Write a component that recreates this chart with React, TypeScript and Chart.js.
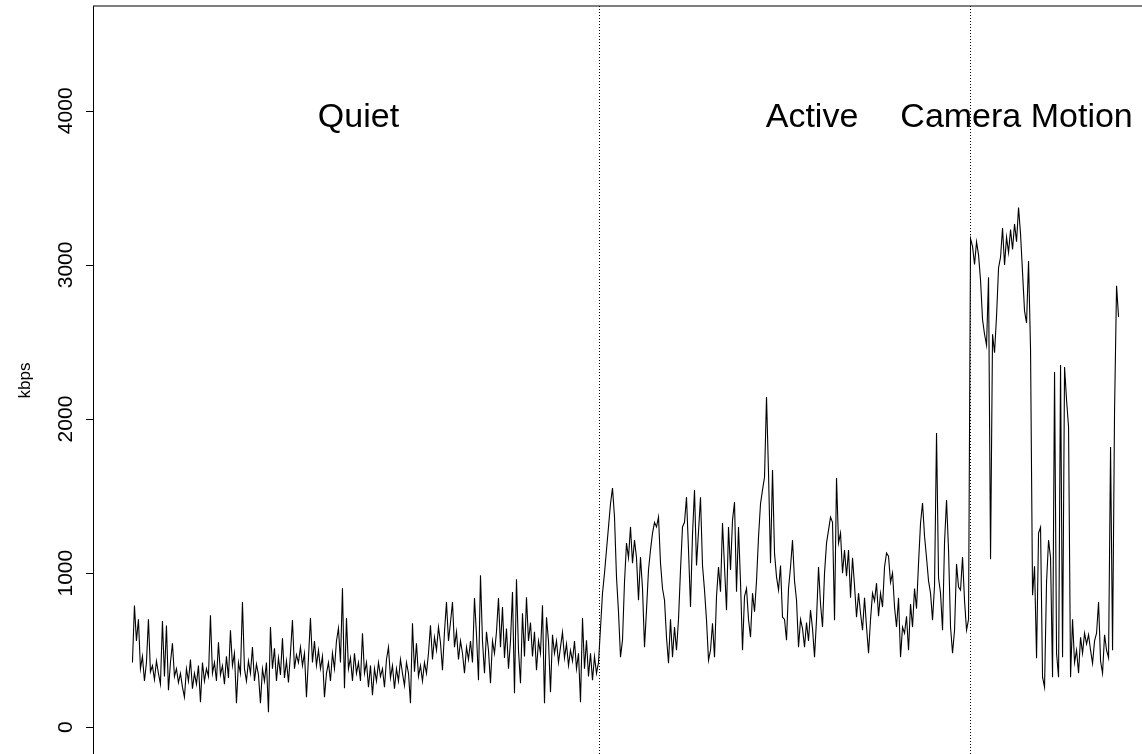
import React, { useEffect, useRef } from "react";
import { Chart, registerables } from "chart.js";

Chart.register(...registerables);

// kbps per frame, in three consecutive phases
const quietKbps = [
  420, 790, 560, 700, 380, 460, 300, 420, 700, 360,
  400, 310, 430, 350, 280, 690, 330, 660, 240, 420,
  545, 330, 380, 290, 350, 260, 195, 380, 300, 440,
  250, 350, 280, 400, 162, 420, 300, 380, 330, 727,
  350, 420, 300, 552, 340, 400, 280, 460, 320, 630,
  400, 480, 156, 420, 350, 812, 380, 300, 430, 350,
  520, 300, 410, 340, 156, 380, 300, 420, 97, 650,
  380, 513, 300, 450, 340, 578, 320, 430, 290, 480,
  695, 380, 470, 420, 520, 400, 480, 195, 450, 708,
  420, 560, 400, 500, 380, 460, 195, 350, 420, 300,
  480, 380, 560, 643, 420, 902, 253, 708, 380, 450,
  300, 480, 350, 420, 300, 610, 350, 420, 260, 400,
  208, 380, 300, 420, 330, 380, 260, 440, 520, 320,
  400, 250, 380, 300, 440, 350, 270, 420, 350, 156,
  675, 360, 545, 330, 400, 300, 420, 350, 480, 662,
  440, 584, 500, 650, 550, 370, 620, 812, 560, 680,
  812, 520, 620, 440, 560, 480, 350, 520, 440, 560,
  420, 838, 600, 305, 987, 560, 350, 620, 500, 285,
  560, 480, 620, 838, 520, 780, 450, 640, 380, 560,
  877, 220, 961, 500, 285, 740, 460, 844, 560, 680,
  460, 620, 370, 560, 480, 792, 156, 714, 560, 227,
  600, 480, 560, 420, 520, 617, 450, 540, 400, 500,
  430, 560, 380, 480, 162, 708, 380, 565, 330, 480,
  305, 460, 350, 420,
];

const activeKbps = [
  643, 870, 1000, 1150, 1300, 1450, 1552, 1364, 974, 747,
  455, 565, 942, 1195, 1100, 1300, 1065, 1214, 1100, 825,
  1104, 900, 520, 760, 1020, 1150, 1260, 1330, 1300, 1364,
  1065, 900, 825, 584, 415, 700, 455, 650, 500, 700,
  1020, 1300, 1330, 1493, 1150, 780, 1250, 1540, 1050, 1270,
  1493, 1050, 890, 695, 435, 500, 675, 455, 850, 1040,
  880, 1325, 1040, 760, 1300, 1020, 1344, 1461, 880, 1300,
  940, 500, 850, 900, 700, 584, 870, 750, 950, 1234,
  1450, 1540, 1623, 2143, 1650, 1065, 1669, 1130, 976, 890,
  1050, 714, 700, 565, 900, 1040, 1214, 950, 825, 520,
  700, 640, 520, 680, 560, 760, 640, 455, 700, 1040,
  800, 650, 1000, 1195, 1279, 1364, 1330, 695, 1617, 1195,
  1260, 1000, 1150, 980, 1150, 840, 1100, 920, 714, 870,
  740, 630, 840, 650, 480, 700, 870, 820, 935, 720,
  870, 780, 1040, 1130, 1110, 940, 1000, 780, 650, 840,
  455, 650, 610, 720, 500, 800, 650, 900, 770, 1065,
  1325, 1455, 1240, 1100, 950, 870, 695, 920, 1909, 970,
  870, 630, 1200, 1474, 1150, 650, 480, 630, 1060, 910,
  890, 1104, 820, 630, 700,
];

const cameraKbps = [
  3170, 3120, 3003, 3150, 3065, 2900, 2645, 2550, 2480, 2920,
  1090, 2550, 2430, 2668, 2980, 3050, 3240, 3000, 3180, 3080,
  3230, 3100, 3266, 3150, 3373, 3200, 2950, 2700, 2623, 3025,
  2450, 857, 1045, 448, 1260, 1298, 325, 260, 942, 1214,
  1100, 325, 2305, 480, 325, 2350, 455, 2338, 2123, 1948,
  325, 700, 420, 500, 350, 584, 480, 610, 540, 600,
  500, 415, 560, 610, 812, 430, 350, 600, 500, 450,
  1818, 500, 2058, 2864, 2662,
];

const yTicks = [0, 1000, 2000, 3000, 4000];
const yLimits = [0, 4500];
const yAxisTitle = "kbps";
const phaseLabels = ["Quiet", "Active", "Camera Motion"];
const phaseLabelX = [113, 339.75, 442];
const phaseLabelY = 4000;

const FONT = '"Liberation Sans", Arial, Helvetica, sans-serif';

export default function App() {
  const ref = useRef<HTMLCanvasElement>(null);

  useEffect(() => {
    const canvas = ref.current;
    if (!canvas) return;
    const series = [...quietKbps, ...activeKbps, ...cameraKbps];
    const n = series.length;
    const points = series.map((v, i) => ({ x: i, y: v }));
    const bounds = [
      quietKbps.length - 0.5,
      quietKbps.length + activeKbps.length - 0.5,
    ];
    const xPad = 0.04 * (n - 1);
    const yPad = 0.04 * (yLimits[1] - yLimits[0]);

    const overlay = {
      id: "rbase",
      afterDatasetsDraw(chart: any) {
        const { ctx, chartArea: a, scales } = chart;
        const xs = scales.x;
        const ys = scales.y;
        ctx.save();
        ctx.strokeStyle = "#000";
        ctx.fillStyle = "#000";
        ctx.lineWidth = 1;

        // phase separators
        ctx.setLineDash([1, 2]);
        bounds.forEach((b) => {
          const px = Math.round(xs.getPixelForValue(b)) + 0.5;
          ctx.beginPath();
          ctx.moveTo(px, a.top);
          ctx.lineTo(px, a.bottom);
          ctx.stroke();
        });
        ctx.setLineDash([]);

        // plot box
        ctx.strokeRect(a.left + 0.5, a.top, a.right - a.left, a.bottom - a.top);

        // y axis ticks and labels
        ctx.font = `21px ${FONT}`;
        ctx.textAlign = "center";
        ctx.textBaseline = "alphabetic";
        yTicks.forEach((t) => {
          const py = Math.round(ys.getPixelForValue(t)) + 0.5;
          ctx.beginPath();
          ctx.moveTo(a.left - 7, py);
          ctx.lineTo(a.left, py);
          ctx.stroke();
          ctx.save();
          ctx.translate(a.left - 21, ys.getPixelForValue(t));
          ctx.rotate(-Math.PI / 2);
          ctx.fillText(String(t), 0, 0);
          ctx.restore();
        });

        // y axis title
        ctx.save();
        ctx.font = `17px ${FONT}`;
        ctx.translate(a.left - 63, (a.top + a.bottom) / 2);
        ctx.rotate(-Math.PI / 2);
        ctx.fillText(yAxisTitle, 0, 0);
        ctx.restore();

        // phase labels
        ctx.font = `34px ${FONT}`;
        phaseLabels.forEach((lab, i) => {
          const px = xs.getPixelForValue(phaseLabelX[i]);
          const py = ys.getPixelForValue(phaseLabelY) + 16;
          ctx.fillText(lab, px, py);
        });
        ctx.restore();
      },
    };

    const chart = new Chart(canvas, {
      type: "line",
      data: {
        datasets: [
          {
            data: points,
            borderColor: "#000",
            borderWidth: 1.1,
            pointRadius: 0,
            tension: 0,
            fill: false,
          },
        ],
      },
      options: {
        animation: false,
        responsive: false,
        devicePixelRatio: 1,
        layout: { padding: { left: 93, top: 6, right: 42, bottom: 45 } },
        plugins: { legend: { display: false }, tooltip: { enabled: false } },
        scales: {
          x: { type: "linear", min: -xPad, max: n - 1 + xPad, display: false },
          y: { type: "linear", min: yLimits[0] - yPad, max: yLimits[1] + yPad, display: false },
        },
      },
      plugins: [overlay],
    });
    return () => chart.destroy();
  }, []);

  return (
    <div
      style={{
        position: "fixed",
        left: 0,
        top: 0,
        width: 1142,
        height: 754,
        overflow: "hidden",
        background: "#fff",
      }}
    >
      <canvas ref={ref} width={1200} height={800} style={{ display: "block", width: 1200, height: 800 }} />
    </div>
  );
}
